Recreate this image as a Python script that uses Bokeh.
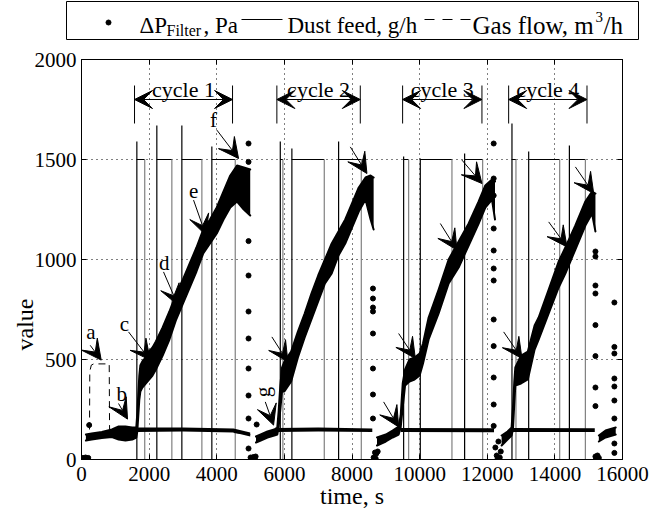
import math
from bokeh.plotting import figure
from bokeh.models import (Range1d, LinearAxis, ColumnDataSource, Arrow, VeeHead, Title,
                          Spacer, FixedTicker, CustomLabelingPolicy)
from bokeh.layouts import column, row
from bokeh.embed import file_html
from bokeh.resources import INLINE
from bokeh.core.properties import value

FONT = "Liberation Serif"
nan = float("nan")

# ---------------- data ----------------
x_ticks = [0, 2000, 4000, 6000, 8000, 10000, 12000, 14000, 16000]
y_ticks = [0, 500, 1000, 1500, 2000]

# dense dP_filter cloud, given as lower/upper envelope per cycle
c1_t = [130, 300, 600, 900, 1100, 1300, 1500, 1620, 1650, 1680, 1710, 1740, 1800, 1900, 2000,
        2100, 2200, 2400, 2600, 2800, 3000, 3200, 3400, 3600, 3800, 4000, 4200, 4400, 4600, 4800, 4990]
c1_lo = [95, 100, 108, 112, 100, 95, 100, 110, 140, 220, 300, 340, 360, 380, 400,
         420, 450, 520, 600, 700, 780, 860, 940, 1030, 1080, 1130, 1200, 1260, 1290, 1250, 1220]
c1_hi = [125, 130, 138, 150, 165, 165, 160, 160, 230, 330, 420, 470, 490, 510, 540,
         560, 590, 660, 740, 830, 900, 980, 1060, 1150, 1200, 1260, 1340, 1420, 1470, 1460, 1450]

c2_t = [5160, 5300, 5500, 5700, 5790, 5830, 5880, 5930, 6000, 6200, 6400, 6600, 6800, 7000,
        7200, 7400, 7600, 7800, 8000, 8200, 8400, 8550, 8640]
c2_lo = [85, 95, 110, 120, 125, 160, 250, 340, 340, 390, 510, 610, 700, 790,
         880, 930, 1020, 1080, 1160, 1240, 1300, 1200, 1150]
c2_hi = [115, 125, 140, 150, 160, 240, 370, 460, 490, 540, 640, 730, 830, 920,
         1000, 1080, 1140, 1200, 1280, 1360, 1410, 1420, 1410]

c3_t = [8740, 9000, 9200, 9380, 9440, 9500, 9570, 9700, 9850, 10000, 10100, 10266, 10562,
        10858, 11154, 11450, 11746, 11943, 12140, 12230]
c3_lo = [70, 90, 110, 125, 160, 260, 370, 390, 400, 420, 480, 600, 730,
         880, 960, 1070, 1180, 1260, 1300, 1200]
c3_hi = [110, 125, 145, 165, 220, 380, 450, 500, 510, 530, 580, 710, 850,
         1000, 1090, 1180, 1290, 1370, 1400, 1390]

c4_t = [12425, 12600, 12720, 12760, 12800, 12830, 13000, 13200, 13400, 13520, 13817, 14112,
        14310, 14606, 14902, 15099, 15200]
c4_lo = [70, 100, 120, 150, 280, 370, 380, 400, 550, 600, 730, 860, 930, 1050, 1170, 1230, 1140]
c4_hi = [120, 140, 160, 260, 390, 460, 520, 540, 670, 710, 850, 990, 1060, 1170, 1290, 1340, 1330]

c5_t = [15300, 15500, 15800]
c5_lo = [90, 110, 125]
c5_hi = [120, 145, 160]

# isolated dP_filter points
pts_t = [0, 40, 80, 120, 160, 200, 227,
         4940, 4940, 4940, 4940, 4940, 4940, 4940, 4940, 4940, 4940,
         5000, 5040, 5080, 5120, 5150, 5180,
         8620, 8620, 8620, 8620, 8620, 8620, 8620, 8620,
         8640, 8680, 8700, 8720, 8760,
         12190, 12190, 12190, 12190, 12190, 12190, 12190, 12190, 12190, 12190, 12190, 12190,
         12240, 12280, 12300, 12330, 12370, 12400,
         15200, 15200, 15200, 15200, 15200, 15200, 15200, 15200, 15200,
         15220, 15260, 15300,
         15760, 15760, 15760, 15760, 15760, 15760, 15760, 15760, 15760]
pts_v = [5, 8, 3, 10, 5, 8, 172,
         1580, 1488, 1092, 920, 740, 605, 455, 320, 205, 55,
         10, 3, 12, 5, 15, 175,
         855, 805, 760, 740, 630, 455, 325, 205,
         10, 35, 5, 30, 40,
         1580, 1405, 1320, 1155, 1045, 955, 895, 700, 567, 410, 275, 168,
         60, 20, 0, 90, 10, 40,
         1040, 1015, 870, 830, 672, 517, 360, 267, 15,
         5, 20, 8,
         785, 563, 530, 405, 365, 295, 205, 80, 33]

# dust feed pulses
df_on = [1637, 2228, 2968, 3855, 5879, 6222, 7604, 9527, 10020, 11331, 12731, 13225, 14429]
df_off = [1870, 2672, 3560, 4547, 5956, 7180, 8275, 9675, 10956, 11864, 12849, 14142, 14902]
df_spike = [1590, 1670, 1670, 1565, 1590, 1555, 1590, 1515, 1505, 1530, 1680, 1540, 1570]
df_level = 1500

# gas flow
gas_t = [237, 245, 290, 360, 820, 830, 1640, nan, 4500, 4990]
gas_v = [150, 440, 472, 478, 478, 150, 140, nan, 135, 125]
gb1_t = [1640, 3000, 4500, 4990]; gb1_lo = [138, 140, 135, 115]; gb1_hi = [160, 160, 155, 135]
gb2_t = [5800, 7000, 8600]; gb2_lo = [138, 140, 138]; gb2_hi = [158, 160, 155]
gb3_t = [9440, 12200]; gb3_lo = [138, 136]; gb3_hi = [158, 156]
gb4_t = [12760, 15180]; gb4_lo = [138, 138]; gb4_hi = [158, 156]

# annotation arrows (tail -> tip)
ar_x0 = [257, 1095, 1391, 2426, 3314, 4004, 5435, 5630, 7950, 8935, 9379, 10612, 11252, 12485, 13817, 14606]
ar_y0 = [571, 280, 638, 938, 1297, 1647, 288, 613, 1563, 288, 630, 1180, 1497, 638, 1188, 1463]
ar_x1 = [583, 1361, 2032, 2850, 3678, 4645, 5680, 6104, 8441, 9379, 9873, 11104, 11843, 13027, 14358, 15148]
ar_y1 = [497, 202, 497, 772, 1122, 1505, 172, 488, 1430, 163, 505, 1047, 1380, 505, 1063, 1330]

let_t = [281, 1192, 1266, 2450, 3314, 3905, 5360]
let_v = [640, 330, 680, 985, 1342, 1697, 338]
let_s = ["a", "b", "c", "d", "e", "f", "g"]
let_a = [0, 0, 0, 0, 0, 0, math.pi / 2]

cyc_l = [1568, 5778, 9497, 12633]
cyc_r = [4467, 8245, 11843, 14950]
cyc_s = ["cycle 1", "cycle 2", "cycle 3", "cycle 4"]

# ---------------- main figure ----------------
p = figure(x_range=Range1d(0, 16000), y_range=Range1d(0, 2000),
           frame_width=541, frame_height=400,
           min_border_left=81, min_border_right=19, min_border_top=19, min_border_bottom=55,
           output_backend="svg", toolbar_location=None,
           x_axis_label="time, s")
p.outline_line_color = "black"
p.outline_line_width = 1
p.xaxis.ticker = FixedTicker(ticks=x_ticks)
p.yaxis.ticker = FixedTicker(ticks=y_ticks)
for ax in (p.xaxis, p.yaxis):
    ax.major_tick_in = 5
    ax.major_tick_out = 0
    ax.minor_tick_line_color = None
    ax.axis_line_color = "black"
    ax.major_tick_line_color = "black"
    ax.major_label_text_font = FONT
    ax.major_label_text_font_size = "21px"
    ax.major_label_text_color = "black"
    ax.axis_label_text_font = FONT
    ax.axis_label_text_font_size = "24px"
    ax.axis_label_text_font_style = "normal"
    ax.axis_label_text_color = "black"
p.xaxis.major_label_standoff = 7
p.yaxis.major_label_standoff = 5
p.xaxis.axis_label_standoff = -1

# y label drawn as a side title, placed lower along the axis as in the original
p.add_layout(Title(text="value", align="left", offset=109, standoff=-12,
                   text_font=FONT, text_font_size="24px", text_font_style="normal",
                   text_color="black"), "left")

no_labels = CustomLabelingPolicy(code="return new Set()")
for loc, tk in (("right", y_ticks), ("above", x_ticks)):
    ax = LinearAxis(ticker=FixedTicker(ticks=tk), major_label_policy=no_labels,
                    major_tick_in=5, major_tick_out=0, minor_tick_line_color=None,
                    major_label_standoff=0, axis_line_color="black")
    p.add_layout(ax, loc)

for g in (p.xgrid, p.ygrid):
    g.grid_line_color = "black"
    g.grid_line_dash = "1 4"
    g.grid_line_width = 1

# dust feed
df_x, df_y = [], []
for on, off, sp in zip(df_on, df_off, df_spike):
    df_x += [on, on, on, off, nan]
    df_y += [0, sp, df_level, df_level, nan]
p.line(df_x, df_y, line_color="black", line_width=1.2)
p.segment(x0=df_off, y0=[0] * len(df_off), x1=df_off, y1=[df_level] * len(df_off),
          line_color="#808080", line_width=1.2)

# gas flow
for bt, bl, bh in ((gb1_t, gb1_lo, gb1_hi), (gb2_t, gb2_lo, gb2_hi),
                   (gb3_t, gb3_lo, gb3_hi), (gb4_t, gb4_lo, gb4_hi)):
    p.varea(x=bt, y1=bl, y2=bh, fill_color="black")
p.line(gas_t, gas_v, line_color="black", line_width=1, line_dash="7 5")

# dP cloud
for ct, cl, ch in ((c1_t, c1_lo, c1_hi), (c2_t, c2_lo, c2_hi), (c3_t, c3_lo, c3_hi),
                   (c4_t, c4_lo, c4_hi), (c5_t, c5_lo, c5_hi)):
    p.varea(x=ct, y1=cl, y2=ch, fill_color="black")
    p.line(ct, cl, line_color="black", line_width=2, line_join="round", line_cap="round")
    p.line(ct, ch, line_color="black", line_width=2, line_join="round", line_cap="round")
p.scatter(pts_t, pts_v, size=5, fill_color="black", line_color="black")

# arrows
asrc = ColumnDataSource(dict(x0=ar_x0, y0=ar_y0, x1=ar_x1, y1=ar_y1))
p.add_layout(Arrow(end=VeeHead(size=20, fill_color="black", line_color="black"),
                   x_start="x0", y_start="y0", x_end="x1", y_end="y1",
                   source=asrc, line_color="black", line_width=1))
p.text(x=let_t, y=let_v, text=let_s, angle=let_a, text_font=value(FONT),
       text_font_size="21px", text_align="center", text_baseline="middle", text_color="black")

# cycle brackets
csrc = ColumnDataSource(dict(l=cyc_l, r=cyc_r, y=[1800] * 4))
p.add_layout(Arrow(start=VeeHead(size=18, fill_color="black", line_color="black"),
                   end=VeeHead(size=18, fill_color="black", line_color="black"),
                   x_start="l", y_start="y", x_end="r", y_end="y",
                   source=csrc, line_color="black", line_width=1))
p.segment(x0=cyc_l, y0=[1680] * 4, x1=cyc_l, y1=[1870] * 4, line_color="black")
p.segment(x0=cyc_r, y0=[1680] * 4, x1=cyc_r, y1=[1870] * 4, line_color="black")
p.text(x=[(a + b) / 2 for a, b in zip(cyc_l, cyc_r)], y=[1852] * 4, text=cyc_s,
       text_font=value(FONT), text_font_size="22px", text_align="center",
       text_baseline="alphabetic", text_color="black")

# ---------------- legend box ----------------
leg = figure(width=574, height=40, x_range=Range1d(0, 572), y_range=Range1d(0, 38),
             x_axis_type=None, y_axis_type=None, toolbar_location=None,
             output_backend="svg", min_border=1)
leg.outline_line_color = "black"
leg.outline_line_width = 1
leg.scatter([42], [17], size=5, fill_color="black", line_color="black")
leg.line([175, 216], [20, 20], line_color="black", line_width=1.2)
leg.line([358, 404], [20, 20], line_color="black", line_width=1, line_dash="10 8")
leg.text(x=[73, 137, 221], y=[14] * 3,
         text=["ΔP", ", Pa", "Dust feed, g/h"],
         text_font=value(FONT), text_font_size="23px", text_baseline="alphabetic",
         text_color="black")
leg.text(x=[406, 537], y=[14] * 2, text=["Gas flow, m", "/h"],
         text_font=value(FONT), text_font_size="25px", text_baseline="alphabetic",
         text_color="black")
leg.text(x=[100], y=[9], text=["Filter"], text_font=value(FONT), text_font_size="16px",
         text_baseline="alphabetic", text_color="black")
leg.text(x=[529], y=[23], text=["3"], text_font=value(FONT), text_font_size="15px",
         text_baseline="alphabetic", text_color="black")

layout = column(row(Spacer(width=65, height=40), leg), p)
open("out.html", "w").write(file_html(layout, INLINE))
